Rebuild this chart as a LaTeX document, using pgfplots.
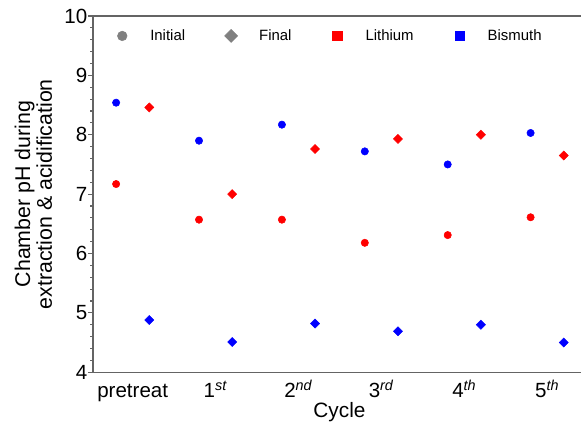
\documentclass[border=0pt]{standalone}
\usepackage{fontspec}
\setmainfont{Liberation Sans}
\usepackage{pgfplots}
\usepackage{pgfplotstable}
\pgfplotsset{compat=1.18}
\definecolor{axgray}{RGB}{100,100,100}
\definecolor{lgray}{RGB}{128,128,128}
\pgfplotstableread{
x Li0 Lif Bi0 Bif
0 7.17 8.46 8.54 4.88
1 6.57 7.00 7.90 4.51
2 6.57 7.76 8.17 4.82
3 6.18 7.93 7.72 4.69
4 6.31 8.00 7.50 4.80
5 6.61 7.65 8.03 4.50
}\phdata
\begin{document}
\begin{tikzpicture}
\useasboundingbox (-69.75pt,-41pt) rectangle (366pt,279.2pt);
\begin{axis}[
  at={(0pt,0pt)}, anchor=south west,
  scale only axis, width=366pt, height=267.2pt,
  xmin=-0.479, xmax=5.408, ymin=4, ymax=10,
  axis lines=left, axis line style={-, axgray, line width=0.9pt},
  xtick={0,1,2,3,4,5},
  xticklabels={pretreat, 1\textsuperscript{\textit{st}}, 2\textsuperscript{\textit{nd}}, 3\textsuperscript{\textit{rd}}, 4\textsuperscript{\textit{th}}, 5\textsuperscript{\textit{th}}},
  x tick style={draw=none},
  ytick={4,5,6,7,8,9,10}, minor y tick num=4,
  tick align=outside,
  y tick style={axgray, line width=0.8pt},
  major tick length=3.5pt, minor tick length=2pt,
  /pgf/number format/assume math mode=true,
  tick label style={font=\fontsize{15.4}{18}\selectfont},
  xticklabel style={anchor=north, inner sep=0pt, text height=15pt, text depth=4pt},
  yticklabel style={anchor=east, inner sep=0pt, xshift=-0.6pt},
  xlabel={Cycle},
  xlabel style={at={(axis description cs:0.505,0)}, anchor=base, yshift=-34.3pt, font=\fontsize{15.6}{18}\selectfont},
  ylabel={Chamber pH during\\extraction \& acidification},
  ylabel style={at={(axis description cs:-0.122,0.5)}, anchor=center, align=center, font=\fontsize{16}{16.3}\selectfont},
  legend columns=4,
  legend style={at={(axis description cs:-0.0348,0.944)}, anchor=west, draw=none, fill=none, inner sep=0pt,
    nodes={inner sep=0pt}, column sep=0pt,
    font=\fontsize{11.2}{13}\selectfont},
  legend image code/.code={\path[draw=none] (-34.5pt,0pt) -- (21pt,0pt); \draw[#1] plot coordinates {(0pt,0pt)};},
]
\addplot[only marks, mark=*, red, mark size=2.75pt, forget plot] table[x expr=\thisrow{x}-0.2, y=Li0]{\phdata};
\addplot[only marks, mark=square*, mark options={rotate=45}, red, mark size=2.4pt, forget plot] table[x expr=\thisrow{x}+0.2, y=Lif]{\phdata};
\addplot[only marks, mark=*, blue, mark size=2.75pt, forget plot] table[x expr=\thisrow{x}-0.2, y=Bi0]{\phdata};
\addplot[only marks, mark=square*, mark options={rotate=45}, blue, mark size=2.4pt, forget plot] table[x expr=\thisrow{x}+0.2, y=Bif]{\phdata};
\draw[axgray, line width=0.9pt] (rel axis cs:0,1) -- (rel axis cs:1,1);
\addlegendimage{mark=*, lgray, mark size=3.6pt}
\addlegendentry{Initial}
\addlegendimage{mark=square*, mark options={rotate=45}, lgray, mark size=3.45pt}
\addlegendentry{Final}
\addlegendimage{mark=square*, red, mark size=3.6pt}
\addlegendentry{Lithium}
\addlegendimage{mark=square*, blue, mark size=3.6pt}
\addlegendentry{Bismuth}
\end{axis}
\end{tikzpicture}
\end{document}
